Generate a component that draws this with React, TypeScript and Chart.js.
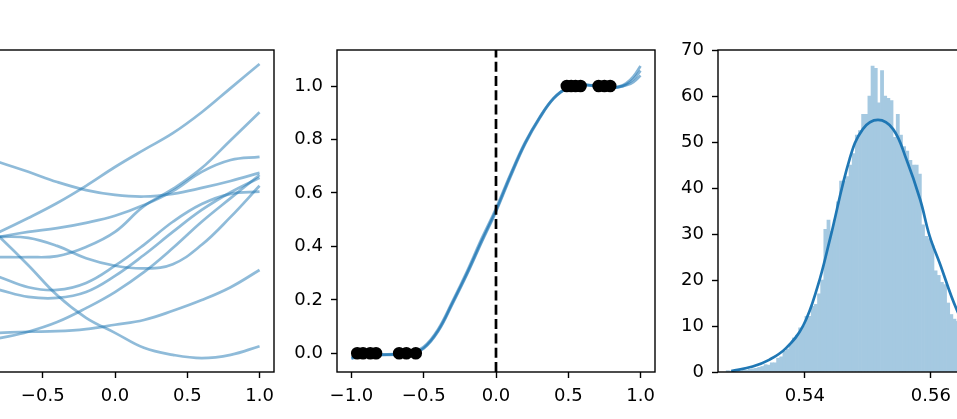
import React, { useEffect, useRef } from 'react';
import { Chart, registerables } from 'chart.js';

Chart.register(...registerables);

// ---------- Panel 1: sampled functions ----------
const sampleX = [-1.0, -0.8, -0.6, -0.4, -0.2, 0.0, 0.2, 0.4, 0.6, 0.8, 1.0];
const sampleA = [1.10, 0.91, 0.73, 0.54, 0.39, 0.30, 0.27, 0.32, 0.43, 0.56, 0.71];
const sampleB = [-0.63, -0.39, -0.13, 0.15, 0.47, 0.82, 1.14, 1.45, 1.84, 2.29, 2.74];
const sampleC = [-0.56, -0.48, -0.39, -0.32, -0.22, -0.09, 0.11, 0.37, 0.73, 0.95, 1.01];
const sampleD = [-0.48, -0.48, -0.50, -0.65, -0.88, -1.02, -1.07, -0.99, -0.63, -0.11, 0.47];
const sampleE = [0.02, -0.48, -1.01, -1.57, -1.99, -2.27, -2.55, -2.68, -2.74, -2.68, -2.52];
const sampleF = [-0.86, -0.86, -0.86, -0.84, -0.67, -0.39, 0.09, 0.41, 0.80, 1.32, 1.84];
const sampleG = [-1.04, -1.23, -1.42, -1.47, -1.34, -1.02, -0.63, -0.20, 0.13, 0.32, 0.36];
const sampleH = [-1.34, -1.47, -1.60, -1.62, -1.51, -1.21, -0.82, -0.39, 0.02, 0.35, 0.62];
const sampleI = [-2.48, -2.37, -2.25, -2.07, -1.81, -1.51, -1.14, -0.69, -0.20, 0.24, 0.67];
const sampleJ = [-2.29, -2.27, -2.25, -2.24, -2.20, -2.12, -2.03, -1.86, -1.66, -1.42, -1.10];
const panel1Samples = [sampleA, sampleB, sampleC, sampleD, sampleE, sampleF, sampleG, sampleH, sampleI, sampleJ];

// ---------- Panel 2: fitted curves and observations ----------
const fitX = [-1.0, -0.9, -0.8, -0.7, -0.6, -0.5, -0.4, -0.3, -0.2, -0.1, 0.0, 0.1, 0.2, 0.3, 0.4, 0.5, 0.6, 0.7, 0.8, 0.85, 0.9, 0.95, 1.0];
const fitY1 = [-0.018, -0.005, -0.006, -0.004, 0.0, 0.02, 0.085, 0.19, 0.30, 0.42, 0.535, 0.665, 0.785, 0.88, 0.955, 0.995, 1.005, 1.0, 0.995, 0.998, 1.01, 1.035, 1.075];
const fitY2 = [-0.016, -0.004, -0.005, -0.003, 0.002, 0.024, 0.09, 0.195, 0.307, 0.428, 0.542, 0.67, 0.788, 0.882, 0.956, 0.995, 1.004, 0.999, 0.994, 0.996, 1.006, 1.025, 1.058];
const fitY3 = [-0.02, -0.006, -0.006, -0.005, -0.001, 0.018, 0.082, 0.186, 0.296, 0.415, 0.53, 0.66, 0.782, 0.878, 0.954, 0.994, 1.004, 1.0, 0.995, 0.997, 1.003, 1.015, 1.04];
const obsLowX = [-0.96, -0.92, -0.87, -0.83, -0.67, -0.62, -0.555];
const obsHighX = [0.49, 0.52, 0.55, 0.585, 0.71, 0.75, 0.79];

// ---------- Panel 3: histogram and fitted density ----------
const histStart = 0.5275;
const histBinWidth = 0.0005;
const histCounts = [
  0.3, 0.2, 0.3, 0.4, 0.2, 0.5, 0.4, 0.6, 0.7, 0.8,
  1.0, 1.2, 1.6, 1.5, 2.0, 2.0, 3.0, 3.3, 4.5, 5.0,
  6.0, 7.4, 8.0, 9.6, 10.0, 12.1, 12.1, 14.3, 14.7, 17.0,
  20.0, 31.0, 33.0, 30.6, 33.0, 37.0, 41.5, 41.5, 42.5, 45.0,
  47.5, 51.5, 52.5, 56.0, 56.0, 60.0, 66.5, 66.0, 58.5, 65.5,
  60.0, 59.5, 59.0, 51.0, 56.0, 51.5, 49.0, 48.0, 46.0, 45.0,
  45.0, 43.0, 32.0, 29.5, 29.0, 27.5, 22.0, 21.0, 19.5, 19.0,
  15.0, 12.5, 11.5, 11.0, 9.5, 8.0, 7.0, 6.0, 5.0, 4.0,
  3.5, 3.0, 2.5, 2.0, 1.5, 1.2, 1.0, 0.8, 0.6, 0.5
];
const densityX = [0.5283, 0.5317, 0.5344, 0.5370, 0.5397, 0.5420, 0.5440, 0.5471, 0.5492, 0.5516, 0.5540, 0.5561, 0.5583, 0.5598, 0.5614, 0.5641, 0.5670, 0.5700, 0.5730, 0.5750];
const densityY = [0.2, 1.2, 2.7, 5.2, 10.0, 18.5, 29.0, 46.3, 52.8, 54.8, 52.8, 46.3, 37.5, 29.6, 23.7, 13.6, 6.0, 2.4, 0.9, 0.4];

// ---------- Axis ticks ----------
const unitTicks = [-1.0, -0.5, 0.0, 0.5, 1.0];
const panel2YTicks = [0.0, 0.2, 0.4, 0.6, 0.8, 1.0];
const panel3XTicks = [0.54, 0.56];
const panel3YTicks = [0, 10, 20, 30, 40, 50, 60, 70];

const BLUE = '#1f77b4';
const FONT = { family: 'DejaVu Sans', size: 18 };

const fmtSigned = (d: number) => (v: number) => (v < 0 ? '\u2212' + Math.abs(v).toFixed(d) : Number(v).toFixed(d));

const framePlugin = {
  id: 'frame',
  afterDatasetsDraw(chart: any) {
    const { ctx, chartArea: a } = chart;
    ctx.save();
    ctx.strokeStyle = '#000';
    ctx.lineWidth = 1.4;
    ctx.strokeRect(a.left, a.top, a.right - a.left, a.bottom - a.top);
    ctx.restore();
  },
};

function xAxis(min: number, max: number, ticks: number[], fmt: (v: number) => string) {
  return {
    type: 'linear',
    min,
    max,
    offset: false,
    afterBuildTicks: (s: any) => {
      s.ticks = ticks.map((v) => ({ value: v }));
    },
    afterFit: (s: any) => {
      s.height = 47;
    },
    grid: { drawOnChartArea: false, drawTicks: true, tickLength: 6, tickColor: '#000', tickWidth: 1.4, offset: false },
    border: { display: false },
    ticks: { color: '#000', font: FONT, padding: 8, maxRotation: 0, autoSkip: false, callback: (v: any) => fmt(Number(v)) },
  };
}

function yAxis(min: number, max: number, ticks: number[], fmt: (v: number) => string, width: number, show = true) {
  return {
    type: 'linear',
    min,
    max,
    afterBuildTicks: (s: any) => {
      s.ticks = ticks.map((v) => ({ value: v }));
    },
    afterFit: (s: any) => {
      s.width = width;
    },
    grid: { drawOnChartArea: false, drawTicks: show, tickLength: 6, tickColor: '#000', tickWidth: 1.4 },
    border: { display: false },
    ticks: { display: show, color: '#000', font: FONT, padding: 8, autoSkip: false, callback: (v: any) => fmt(Number(v)) },
  };
}

function useChart(ref: React.RefObject<HTMLCanvasElement>, makeConfig: () => any) {
  useEffect(() => {
    if (!ref.current) return;
    const chart = new Chart(ref.current, makeConfig());
    return () => chart.destroy();
  }, []);
}

const baseOptions = (rightPad: number) => ({
  responsive: false,
  animation: false,
  devicePixelRatio: 1,
  layout: { padding: { top: 50, right: rightPad, left: 0, bottom: 0 } },
  plugins: { legend: { display: false }, tooltip: { enabled: false } },
  events: [],
});

function Panel1() {
  const ref = useRef<HTMLCanvasElement>(null);
  useChart(ref, () => ({
    type: 'line',
    data: {
      datasets: panel1Samples.map((ys) => ({
        data: sampleX.map((x, i) => ({ x, y: ys[i] })),
        borderColor: 'rgba(31,119,180,0.5)',
        borderWidth: 2.7,
        pointRadius: 0,
        tension: 0.4,
        fill: false,
      })),
    },
    options: {
      ...baseOptions(26),
      scales: {
        x: xAxis(-1.1, 1.1, unitTicks, fmtSigned(1)),
        y: yAxis(-3, 3, [-2, -1, 0, 1, 2], fmtSigned(0), 56, false),
      },
    },
    plugins: [framePlugin],
  }));
  return <canvas ref={ref} width={400} height={419} style={{ position: 'absolute', left: -100, top: 0 }} />;
}

function Panel2() {
  const ref = useRef<HTMLCanvasElement>(null);
  useChart(ref, () => ({
    type: 'line',
    data: {
      datasets: [
        {
          data: [...obsLowX.map((x) => ({ x, y: 0 })), ...obsHighX.map((x) => ({ x, y: 1 }))],
          showLine: false,
          pointRadius: 5.4,
          pointBackgroundColor: '#000',
          pointBorderColor: '#000',
          pointBorderWidth: 1.8,
          order: 0,
        },
        {
          data: [{ x: 0, y: -0.07 }, { x: 0, y: 1.135 }],
          borderColor: '#000',
          borderWidth: 2.7,
          borderDash: [10, 4.3],
          pointRadius: 0,
          order: 1,
        },
        ...[fitY1, fitY2, fitY3].map((ys) => ({
          data: fitX.map((x, i) => ({ x, y: ys[i] })),
          borderColor: 'rgba(31,119,180,0.55)',
          borderWidth: 2.7,
          pointRadius: 0,
          tension: 0.4,
          order: 2,
        })),
      ],
    },
    options: {
      ...baseOptions(25),
      scales: {
        x: xAxis(-1.1, 1.1, unitTicks, fmtSigned(1)),
        y: yAxis(-0.07, 1.135, panel2YTicks, fmtSigned(1), 57),
      },
    },
    plugins: [framePlugin],
  }));
  return <canvas ref={ref} width={400} height={419} style={{ position: 'absolute', left: 280, top: 0 }} />;
}

function Panel3() {
  const ref = useRef<HTMLCanvasElement>(null);
  useChart(ref, () => ({
    type: 'bar',
    data: {
      datasets: [
        {
          type: 'line',
          data: densityX.map((x, i) => ({ x, y: densityY[i] })),
          borderColor: BLUE,
          borderWidth: 2.7,
          pointRadius: 0,
          tension: 0.4,
          order: 0,
        },
        {
          type: 'bar',
          data: histCounts.map((c, i) => ({ x: histStart + histBinWidth * (i + 0.5), y: c })),
          backgroundColor: '#a5c9e1',
          borderWidth: 0,
          barPercentage: 1,
          categoryPercentage: 1,
          order: 1,
        },
      ],
    },
    options: {
      ...baseOptions(24),
      scales: {
        x: xAxis(0.5262, 0.5767, panel3XTicks, (v) => v.toFixed(2)),
        y: yAxis(0, 70, panel3YTicks, (v) => String(Math.round(v)), 58),
      },
    },
    plugins: [framePlugin],
  }));
  return <canvas ref={ref} width={400} height={419} style={{ position: 'absolute', left: 660, top: 0 }} />;
}

export default function App() {
  return (
    <div
      style={{
        position: 'fixed',
        left: 0,
        top: 0,
        width: 957,
        height: 419,
        overflow: 'hidden',
        background: '#fff',
      }}
    >
      <Panel1 />
      <Panel2 />
      <Panel3 />
    </div>
  );
}
